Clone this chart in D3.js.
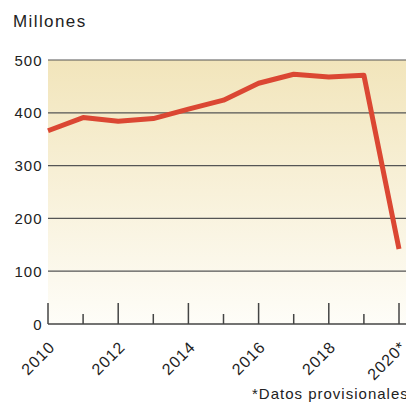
<!DOCTYPE html>
<html>
<head>
<meta charset="utf-8">
<script src="https://cdn.jsdelivr.net/npm/d3@7"></script>
<style>
	body { margin: 0; background: #fff; }
	svg { display: block; font-family: "Liberation Sans", Arial, sans-serif; }
</style>
</head>
<body>
<svg width="406" height="403"></svg>
<script>
var years = [2010, 2011, 2012, 2013, 2014, 2015, 2016, 2017, 2018, 2019, 2020]
var values = [366, 391, 384, 389, 407, 424, 456, 473, 468, 471, 142]
var yTicks = [0, 100, 200, 300, 400, 500]
var xLabels = ["2010", "2012", "2014", "2016", "2018", "2020*"]

var svg = d3.select("svg")
var m = { left: 48, right: 406, top: 60, bottom: 324 }

var x = d3.scaleLinear().domain([2010, 2020]).range([m.left, 399])
var y = d3.scaleLinear().domain([0, 500]).range([m.bottom, m.top])

// background gradient
var grad = svg.append("defs").append("linearGradient")
	.attr("id", "bg").attr("x1", 0).attr("x2", 0).attr("y1", 0).attr("y2", 1)
grad.append("stop").attr("offset", "0%").attr("stop-color", "#f2e5bb")
grad.append("stop").attr("offset", "100%").attr("stop-color", "#fefdf8")

svg.append("rect")
	.attr("x", m.left).attr("y", m.top)
	.attr("width", m.right - m.left).attr("height", m.bottom - m.top)
	.attr("fill", "url(#bg)")

svg.append("text")
	.attr("x", 13).attr("y", 27)
	.style("font-size", "17px").style("letter-spacing", "1.4px").style("fill", "#222")
	.text("Millones")

// gridlines
svg.selectAll("line.grid")
	.data(yTicks.filter(d => d > 0))
	.enter().append("line")
	.attr("class", "grid")
	.attr("x1", m.left).attr("x2", m.right)
	.attr("y1", d => y(d)).attr("y2", d => y(d))
	.style("stroke", "#555").style("stroke-width", 1.2)

svg.selectAll("text.ylab")
	.data(yTicks)
	.enter().append("text")
	.attr("class", "ylab")
	.attr("x", 42.5).attr("y", d => y(d) + 5.5)
	.attr("text-anchor", "end")
	.style("font-size", "15px").style("letter-spacing", "1px").style("fill", "#222")
	.text(d => d)

// x axis with major / minor ticks
svg.append("line")
	.attr("x1", m.left).attr("x2", m.right)
	.attr("y1", m.bottom).attr("y2", m.bottom)
	.style("stroke", "#444").style("stroke-width", 1.5)

svg.selectAll("line.tick")
	.data(years)
	.enter().append("line")
	.attr("class", "tick")
	.attr("x1", d => x(d)).attr("x2", d => x(d))
	.attr("y1", m.bottom).attr("y2", d => d % 2 === 0 ? m.bottom - 21 : m.bottom - 10)
	.style("stroke", "#444").style("stroke-width", 1.5)

svg.selectAll("text.xlab")
	.data(xLabels)
	.enter().append("text")
	.attr("class", "xlab")
	.attr("transform", d => `translate(${x(parseInt(d)) + 8},${m.bottom + 24}) rotate(-45)`)
	.attr("text-anchor", "end")
	.style("font-size", "16px").style("letter-spacing", "1px").style("fill", "#222")
	.text(d => d)

// data line
var line = d3.line()
	.x((d, i) => x(years[i]))
	.y(d => y(d))

svg.append("path")
	.datum(values)
	.attr("d", line)
	.style("fill", "none")
	.style("stroke", "#db4733")
	.style("stroke-width", 5)
	.style("stroke-linejoin", "round")

svg.append("text")
	.attr("x", 252).attr("y", 399)
	.style("font-size", "15px").style("letter-spacing", "1px").style("fill", "#222")
	.text("*Datos provisionales")
</script>
</body>
</html>
